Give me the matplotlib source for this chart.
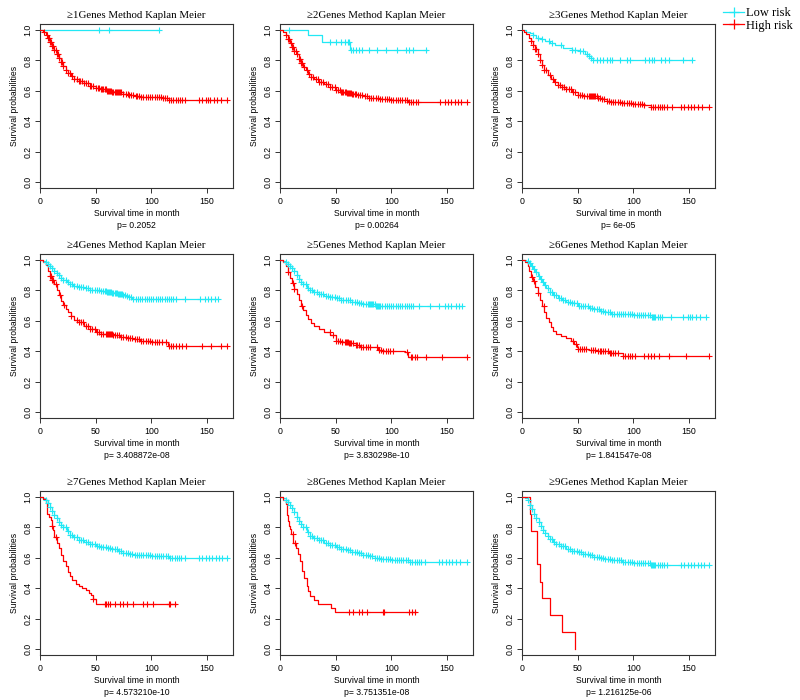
import numpy as np
import matplotlib
matplotlib.use("Agg")
import matplotlib.pyplot as plt
from matplotlib.lines import Line2D

# ---------------- data ----------------
titles = ["\u22651Genes Method Kaplan Meier", "\u22652Genes Method Kaplan Meier",
          "\u22653Genes Method Kaplan Meier", "\u22654Genes Method Kaplan Meier",
          "\u22655Genes Method Kaplan Meier", "\u22656Genes Method Kaplan Meier",
          "\u22657Genes Method Kaplan Meier", "\u22658Genes Method Kaplan Meier",
          "\u22659Genes Method Kaplan Meier"]
pvalues = ["p= 0.2052", "p= 0.00264", "p= 6e-05", "p= 3.408872e-08", "p= 3.830298e-10",
           "p= 1.841547e-08", "p= 4.573210e-10", "p= 3.751351e-08", "p= 1.216125e-06"]
legend_labels = ["Low risk", "High risk"]
x_ticks = [0, 50, 100, 150]
y_ticks = [0.0, 0.2, 0.4, 0.6, 0.8, 1.0]

# Panel 1
p1_low_t = [0]
p1_low_s = [1.0]
p1_low_end = 107
p1_low_cens = [53, 62, 107]
p1_high_t = [0, 3, 5, 7, 9, 11, 13, 15, 17, 19, 21, 23, 25, 28, 31, 35, 40, 45, 50, 55, 60, 65, 70, 75, 80, 85, 90, 100, 110, 116]
p1_high_s = [1.0, 0.99, 0.97, 0.945, 0.92, 0.895, 0.87, 0.845, 0.815, 0.79, 0.765, 0.74, 0.715, 0.695, 0.68, 0.665, 0.65, 0.635, 0.62, 0.61, 0.60, 0.595, 0.59, 0.58, 0.575, 0.565, 0.56, 0.558, 0.553, 0.542]
p1_high_end = 168
p1_high_cens = [4, 6, 7, 8, 9, 10, 11, 12, 13, 14, 15, 16, 17, 19, 20, 21, 23, 25, 27, 29, 31, 33, 35, 36, 38, 40, 41, 43, 45, 46, 48, 50, 52, 53, 55, 56, 57, 58, 59, 60, 61, 62, 63, 64, 65, 66, 67, 68, 69, 70, 71, 72, 73, 75, 77, 79, 80, 82, 84, 86, 87, 89, 91, 93, 95, 97, 99, 101, 103, 105, 107, 109, 111, 112, 114, 116, 118, 120, 122, 124, 126, 128, 130, 143, 146, 149, 151, 153, 156, 159, 163, 168]

# Panel 2
p2_low_t = [0, 25, 38, 63]
p2_low_s = [1.0, 0.967, 0.923, 0.867]
p2_low_end = 132
p2_low_cens = [8, 45, 50, 55, 58, 61, 62, 64, 66, 68, 71, 74, 80, 87, 95, 105, 113, 116, 120, 131]
p2_high_t = [0, 3, 5, 7, 9, 11, 13, 15, 17, 19, 21, 23, 25, 28, 31, 35, 40, 45, 50, 55, 60, 65, 70, 75, 80, 85, 90, 100, 110, 115]
p2_high_s = [1.0, 0.99, 0.965, 0.94, 0.915, 0.89, 0.865, 0.84, 0.81, 0.785, 0.76, 0.735, 0.71, 0.69, 0.675, 0.66, 0.645, 0.625, 0.605, 0.595, 0.585, 0.58, 0.575, 0.565, 0.555, 0.55, 0.545, 0.54, 0.537, 0.524]
p2_high_end = 168
p2_high_cens = [5, 7, 8, 10, 11, 12, 13, 14, 15, 17, 18, 19, 20, 22, 24, 26, 28, 30, 32, 34, 35, 37, 39, 41, 43, 45, 47, 49, 50, 52, 54, 55, 56, 57, 58, 59, 60, 61, 62, 63, 64, 65, 66, 67, 68, 70, 72, 74, 76, 78, 80, 82, 84, 86, 88, 90, 92, 94, 96, 98, 100, 102, 104, 106, 108, 110, 112, 114, 116, 118, 120, 122, 124, 144, 148, 151, 154, 157, 160, 163, 168]

# Panel 3
p3_low_t = [0, 4, 7, 10, 13, 17, 21, 25, 30, 37, 45, 52, 57, 60, 62, 64]
p3_low_s = [1.0, 0.99, 0.98, 0.965, 0.95, 0.94, 0.93, 0.915, 0.9, 0.885, 0.87, 0.86, 0.845, 0.83, 0.815, 0.803]
p3_low_end = 153
p3_low_cens = [10, 14, 18, 24, 27, 35, 45, 48, 52, 55, 58, 60, 62, 64, 67, 70, 73, 76, 79, 80.5, 88, 94, 97, 111, 114, 117, 118.6, 124.7, 129, 132, 144.5, 153]
p3_high_t = [0, 2, 4, 6, 8, 10, 12, 14, 16, 18, 20, 23, 26, 29, 32, 36, 40, 45, 50, 55, 62, 68, 72, 76, 80, 90, 100, 110, 116]
p3_high_s = [1.0, 0.99, 0.975, 0.95, 0.925, 0.90, 0.875, 0.84, 0.805, 0.77, 0.74, 0.705, 0.68, 0.66, 0.64, 0.625, 0.61, 0.59, 0.575, 0.568, 0.564, 0.555, 0.545, 0.535, 0.525, 0.518, 0.51, 0.505, 0.496]
p3_high_end = 168
p3_high_cens = [8, 10, 12, 13, 14, 16, 18, 20, 22, 25, 28, 30, 32, 34, 36, 38, 40, 42, 44, 46, 48, 50, 52, 54, 56, 58, 60, 61, 62, 63, 64, 65, 66, 67, 68, 70, 72, 74, 76, 78, 80, 82, 84, 86, 88, 90, 92, 94, 96, 98, 100, 102, 104, 106, 108, 110, 116, 118, 120, 122, 124, 126, 128, 130, 135, 143, 146, 149, 152, 155, 158, 162, 168]

# Panel 4
p4_low_t = [0, 3, 5, 7, 9, 11, 13, 15, 17, 19, 21, 24, 27, 30, 35, 40, 45, 50, 55, 60, 65, 70, 75, 78, 80, 83]
p4_low_s = [1.0, 0.995, 0.985, 0.975, 0.96, 0.945, 0.93, 0.915, 0.90, 0.885, 0.87, 0.855, 0.84, 0.83, 0.825, 0.815, 0.805, 0.80, 0.795, 0.79, 0.78, 0.775, 0.77, 0.765, 0.755, 0.745]
p4_low_end = 160
p4_low_cens = [5, 7, 9, 11, 13, 15, 17, 19, 21, 23, 25, 27, 29, 31, 33, 35, 37, 39, 41, 43, 45, 47, 49, 51, 53, 55, 57, 58, 59, 60, 61, 62, 63, 64, 65, 66, 67, 68, 69, 70, 71, 72, 73, 74, 75, 76, 78, 80, 82, 84, 86, 88, 90, 92, 94, 96, 98, 100, 102, 104, 106, 108, 110, 112, 114, 116, 118, 120, 122, 130, 144, 148, 151, 154, 157, 160]
p4_high_t = [0, 3, 5, 7, 9, 11, 13, 15, 17, 19, 21, 23, 25, 28, 31, 35, 40, 45, 50, 55, 60, 66, 72, 78, 84, 90, 100, 110, 115]
p4_high_s = [1.0, 0.99, 0.97, 0.93, 0.895, 0.87, 0.84, 0.80, 0.77, 0.73, 0.705, 0.68, 0.66, 0.63, 0.605, 0.59, 0.565, 0.545, 0.525, 0.515, 0.51, 0.505, 0.495, 0.485, 0.478, 0.468, 0.462, 0.458, 0.437]
p4_high_end = 168
p4_high_cens = [9, 10, 11, 12, 14, 18, 22, 28, 33, 35, 37, 39, 41, 43, 45, 47, 49, 51, 53, 55, 57, 59, 60, 61, 62, 63, 64, 65, 66, 67, 69, 71, 73, 75, 77, 79, 81, 83, 85, 87, 89, 91, 93, 95, 97, 99, 101, 103, 105, 107, 110, 113, 116, 118, 120, 122, 125, 128, 131, 146, 154, 163, 168]

# Panel 5
p5_low_t = [0, 3, 5, 7, 9, 11, 13, 15, 17, 19, 21, 24, 27, 30, 35, 40, 45, 50, 55, 60, 65, 70, 75, 80, 86]
p5_low_s = [1.0, 0.995, 0.985, 0.975, 0.96, 0.945, 0.925, 0.90, 0.875, 0.855, 0.84, 0.815, 0.80, 0.79, 0.775, 0.765, 0.755, 0.748, 0.74, 0.735, 0.727, 0.72, 0.714, 0.708, 0.70]
p5_low_end = 164
p5_low_cens = [5, 7, 9, 11, 13, 15, 17, 19, 21, 23, 25, 27, 29, 31, 33, 35, 37, 39, 41, 43, 45, 47, 49, 51, 53, 55, 57, 59, 61, 63, 65, 67, 69, 71, 73, 75, 77, 79, 80, 81, 82, 83, 84, 85, 86, 87, 88, 89, 90, 92, 94, 96, 98, 100, 102, 104, 106, 108, 110, 112, 114, 116, 118, 120, 125, 135, 143, 148, 151, 154, 158, 161, 164]
p5_high_t = [0, 3, 5, 7, 9, 11, 13, 15, 17, 19, 21, 23, 25, 28, 31, 35, 40, 45, 50, 55, 62, 68, 72, 80, 88, 92, 112, 115]
p5_high_s = [1.0, 0.99, 0.96, 0.92, 0.885, 0.85, 0.81, 0.775, 0.74, 0.70, 0.67, 0.64, 0.615, 0.585, 0.565, 0.545, 0.525, 0.505, 0.47, 0.46, 0.455, 0.44, 0.43, 0.425, 0.41, 0.40, 0.395, 0.365]
p5_high_end = 168
p5_high_cens = [7.5, 11.4, 13, 19.6, 44.6, 48, 50, 52, 54, 56, 58, 59, 60, 61, 62, 63, 64, 66, 68, 69, 71, 73, 75, 77, 79, 81, 87, 89, 91, 93, 95, 97, 99, 102, 114, 117.5, 119, 121, 123.5, 131, 146, 168]

# Panel 6
p6_low_t = [0, 4, 6, 8, 10, 12, 14, 16, 18, 20, 22, 25, 28, 32, 36, 40, 45, 50, 55, 60, 65, 70, 75, 80, 90, 100, 117]
p6_low_s = [1.0, 0.995, 0.98, 0.96, 0.94, 0.92, 0.895, 0.875, 0.855, 0.835, 0.815, 0.79, 0.77, 0.75, 0.735, 0.725, 0.715, 0.70, 0.695, 0.685, 0.675, 0.665, 0.655, 0.648, 0.642, 0.64, 0.622]
p6_low_end = 165
p6_low_cens = [5, 7, 9, 11, 13, 15, 17, 19, 21, 23, 25, 27, 29, 31, 33, 35, 37, 39, 41, 43, 45, 47, 49, 51, 53, 55, 57, 59, 61, 63, 65, 67, 69, 71, 73, 75, 77, 79, 81, 83, 85, 87, 89, 91, 93, 95, 97, 99, 101, 103, 105, 107, 109, 111, 113, 115, 117, 118, 119, 120, 122, 124, 126, 134, 144.5, 149, 151, 153, 156, 160, 165]
p6_high_t = [0, 3, 5, 6, 8, 10, 12, 14, 16, 18, 20, 22, 24, 26, 28, 31, 35, 40, 44, 47, 49, 50, 60, 68, 78, 84, 91]
p6_high_s = [1.0, 0.99, 0.96, 0.93, 0.89, 0.86, 0.82, 0.78, 0.74, 0.70, 0.66, 0.62, 0.59, 0.56, 0.535, 0.515, 0.50, 0.485, 0.47, 0.45, 0.43, 0.413, 0.405, 0.40, 0.39, 0.385, 0.37]
p6_high_end = 168
p6_high_cens = [8.8, 11, 14, 19.5, 45.4, 48.5, 50, 52, 54, 56, 57.6, 62, 64, 66, 68, 70, 71, 73, 75, 77, 79, 80, 82, 84, 86.6, 91, 93, 95, 97, 98.8, 101.8, 110, 113, 116, 119, 123, 132.3, 147.6, 168]

# Panel 7
p7_low_t = [0, 3, 5, 7, 9, 11, 13, 15, 17, 19, 21, 24, 27, 30, 35, 40, 45, 50, 55, 60, 65, 70, 75, 80, 85, 100, 116]
p7_low_s = [1.0, 0.995, 0.98, 0.96, 0.935, 0.91, 0.885, 0.86, 0.835, 0.815, 0.80, 0.775, 0.75, 0.735, 0.72, 0.705, 0.69, 0.68, 0.67, 0.665, 0.655, 0.645, 0.635, 0.625, 0.618, 0.615, 0.60]
p7_low_end = 168
p7_low_cens = [5, 7, 9, 11, 13, 15, 17, 19, 21, 23, 25, 27, 29, 31, 33, 35, 37, 39, 41, 43, 45, 47, 49, 51, 53, 55, 57, 59, 61, 63, 65, 67, 69, 71, 73, 75, 77, 79, 81, 83, 85, 87, 89, 91, 93, 95, 97, 99, 101, 103, 105, 107, 109, 111, 113, 115, 117, 119, 121, 123, 125, 127, 130, 143, 146, 149, 152, 155, 158, 161, 164, 168]
p7_high_t = [0, 3, 5, 6, 8, 10, 11, 12, 13, 15, 17, 19, 21, 23, 25, 27, 29, 32, 35, 38, 41, 44, 46, 48, 50]
p7_high_s = [1.0, 0.99, 0.96, 0.89, 0.87, 0.85, 0.81, 0.78, 0.74, 0.70, 0.665, 0.62, 0.58, 0.545, 0.505, 0.48, 0.455, 0.43, 0.415, 0.40, 0.39, 0.37, 0.355, 0.33, 0.298]
p7_high_end = 122
p7_high_cens = [11, 14, 48, 58.5, 59.5, 60.7, 63, 67.6, 72, 75, 78, 84, 93, 96, 102, 115.6, 117, 121]

# Panel 8
p8_low_t = [0, 3, 5, 7, 9, 11, 13, 15, 17, 19, 21, 24, 27, 30, 35, 40, 45, 50, 55, 60, 65, 70, 75, 80, 85, 90, 100, 117]
p8_low_s = [1.0, 0.995, 0.98, 0.965, 0.945, 0.925, 0.90, 0.87, 0.845, 0.82, 0.80, 0.77, 0.745, 0.73, 0.715, 0.70, 0.685, 0.67, 0.66, 0.65, 0.64, 0.63, 0.62, 0.61, 0.60, 0.59, 0.587, 0.573]
p8_low_end = 168
p8_low_cens = [5, 7, 9, 11, 13, 15, 17, 19, 21, 23, 25, 27, 29, 31, 33, 35, 37, 39, 41, 43, 45, 47, 49, 51, 53, 55, 57, 59, 61, 63, 65, 67, 69, 71, 73, 75, 77, 79, 81, 83, 85, 87, 89, 91, 93, 95, 97, 99, 101, 103, 105, 107, 109, 111, 113, 115, 117, 119, 121, 123, 125, 127, 130, 143, 146, 149, 152, 155, 158, 162, 168]
p8_high_t = [0, 3, 5, 6, 7, 8, 9, 10, 12, 14, 16, 18, 20, 22, 24, 25, 27, 31, 34, 46, 49]
p8_high_s = [1.0, 0.98, 0.955, 0.88, 0.84, 0.81, 0.79, 0.755, 0.70, 0.665, 0.625, 0.58, 0.515, 0.47, 0.415, 0.38, 0.35, 0.32, 0.295, 0.27, 0.243]
p8_high_end = 122
p8_high_cens = [11.4, 13.5, 61.7, 65.7, 70.8, 73.8, 78.3, 92.8, 93.4, 116, 119, 121]

# Panel 9
p9_low_t = [0, 3, 5, 7, 9, 11, 13, 15, 17, 19, 21, 23, 25, 28, 31, 35, 40, 45, 50, 55, 60, 65, 70, 75, 80, 90, 100, 110, 116]
p9_low_s = [1.0, 0.995, 0.98, 0.95, 0.92, 0.89, 0.86, 0.835, 0.81, 0.785, 0.765, 0.745, 0.725, 0.705, 0.69, 0.675, 0.66, 0.648, 0.638, 0.628, 0.618, 0.608, 0.60, 0.592, 0.585, 0.575, 0.568, 0.565, 0.555]
p9_low_end = 168
p9_low_cens = [5, 7, 9, 11, 13, 15, 17, 19, 21, 23, 25, 27, 29, 31, 33, 35, 37, 39, 41, 43, 45, 47, 49, 51, 53, 55, 57, 59, 61, 63, 65, 67, 69, 71, 73, 75, 77, 79, 81, 83, 85, 87, 89, 91, 93, 95, 97, 99, 101, 103, 105, 107, 109, 111, 113, 115, 116, 117, 118, 119, 120, 122, 124, 126, 128, 130, 143, 146, 149, 152, 155, 158, 161, 164, 168]
p9_high_t = [0, 7, 8.5, 13.4, 16, 18.3, 25.3, 35.6, 47.2]
p9_high_s = [1.0, 0.889, 0.778, 0.556, 0.444, 0.333, 0.222, 0.111, 0.0]
p9_high_end = 47.2
p9_high_cens = []

panels = [
    ((p1_low_t, p1_low_s, p1_low_end, p1_low_cens), (p1_high_t, p1_high_s, p1_high_end, p1_high_cens)),
    ((p2_low_t, p2_low_s, p2_low_end, p2_low_cens), (p2_high_t, p2_high_s, p2_high_end, p2_high_cens)),
    ((p3_low_t, p3_low_s, p3_low_end, p3_low_cens), (p3_high_t, p3_high_s, p3_high_end, p3_high_cens)),
    ((p4_low_t, p4_low_s, p4_low_end, p4_low_cens), (p4_high_t, p4_high_s, p4_high_end, p4_high_cens)),
    ((p5_low_t, p5_low_s, p5_low_end, p5_low_cens), (p5_high_t, p5_high_s, p5_high_end, p5_high_cens)),
    ((p6_low_t, p6_low_s, p6_low_end, p6_low_cens), (p6_high_t, p6_high_s, p6_high_end, p6_high_cens)),
    ((p7_low_t, p7_low_s, p7_low_end, p7_low_cens), (p7_high_t, p7_high_s, p7_high_end, p7_high_cens)),
    ((p8_low_t, p8_low_s, p8_low_end, p8_low_cens), (p8_high_t, p8_high_s, p8_high_end, p8_high_cens)),
    ((p9_low_t, p9_low_s, p9_low_end, p9_low_cens), (p9_high_t, p9_high_s, p9_high_end, p9_high_cens)),
]

# ---------------- style ----------------
LOW_COLOR = "#22E8F5"
HIGH_COLOR = "#FF0000"
SERIF = "Liberation Serif"
SANS = "Liberation Sans"

W, H = 800, 700
fig = plt.figure(figsize=(8, 7), dpi=100)
col_left = [40, 280, 522]
row_top = [24, 254, 491]
box_w, box_h = 193, 164


def draw_curve(ax, t, s, end, cens, color):
    t = np.asarray(t, float)
    s = np.asarray(s, float)
    xs = np.r_[t, end]
    ys = np.r_[s, s[-1]]
    ax.step(xs, ys, where="post", color=color, lw=0.9, zorder=3)
    if len(cens):
        c = np.asarray(cens, float)
        idx = np.searchsorted(t, c, side="right") - 1
        ax.plot(c, s[idx], ls="none", marker="+", ms=5, mew=0.8, color=color, zorder=4)


for i, (low, high) in enumerate(panels):
    r, cidx = divmod(i, 3)
    left = col_left[cidx] / W
    bottom = 1 - (row_top[r] + box_h) / H
    ax = fig.add_axes([left, bottom, box_w / W, box_h / H])
    draw_curve(ax, *low, LOW_COLOR)
    draw_curve(ax, *high, HIGH_COLOR)
    ax.set_xlim(0, 173.5)
    ax.set_ylim(-0.04, 1.04)
    ax.set_xticks(x_ticks)
    ax.set_xticklabels([str(v) for v in x_ticks], fontfamily=SANS, fontsize=6.3)
    ax.set_yticks(y_ticks)
    ax.set_yticklabels([f"{v:.1f}" for v in y_ticks], fontfamily=SANS, fontsize=6.3,
                       rotation=90, va="center")
    ax.tick_params(direction="out", length=3.5, width=0.7, color="#333333")
    ax.tick_params(axis="x", pad=3)
    ax.tick_params(axis="y", pad=2)
    for sp in ax.spines.values():
        sp.set_linewidth(0.8)
        sp.set_color("#333333")
    ax.set_title(titles[i], fontfamily=SERIF, fontsize=7.8, pad=4)
    ax.set_xlabel("Survival time in month\n" + pvalues[i], fontfamily=SANS,
                  fontsize=6.2, linespacing=1.45, labelpad=2)
    ax.set_ylabel("Survival probabilities", fontfamily=SANS, fontsize=6.2, labelpad=3)

handles = [Line2D([0], [0], color=LOW_COLOR, lw=0.9, marker="+", ms=7, mew=0.9),
           Line2D([0], [0], color=HIGH_COLOR, lw=0.9, marker="+", ms=7, mew=0.9)]
fig.legend(handles, legend_labels, loc="upper left", bbox_to_anchor=(723 / W, 1 - 7 / H),
           frameon=False, prop={"family": SERIF, "size": 9}, handlelength=1.7,
           handletextpad=0.1, borderpad=0, borderaxespad=0, labelspacing=0.05)

fig.savefig("out.png", dpi=100)
